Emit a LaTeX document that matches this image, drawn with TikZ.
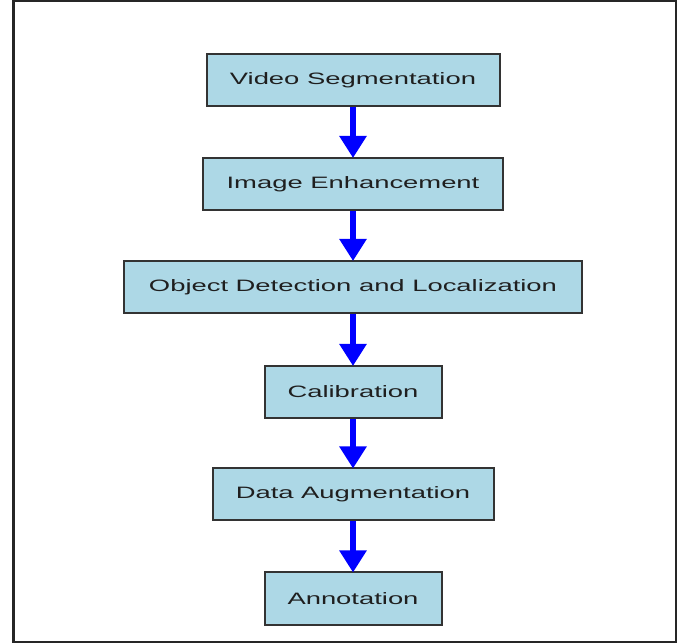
\documentclass[tikz,border=0pt]{standalone}
\usepackage{fontspec}
\setmainfont{Liberation Sans}
\newfontfamily\boxfont[FakeStretch=1.66]{Liberation Sans}
\usetikzlibrary{arrows.meta}
\definecolor{boxblue}{HTML}{ADD8E6}
\definecolor{boxedge}{HTML}{333333}
\definecolor{txtcol}{HTML}{1F1F1F}
\begin{document}
\begin{tikzpicture}[x=1pt,y=-1pt,
  stepbox/.style={draw=boxedge, line width=2pt, fill=boxblue, rectangle,
    inner sep=0pt, minimum height=52pt, text=txtcol,
    font=\boxfont\fontsize{16.5}{18}\selectfont},
  flowarrow/.style={draw=blue, line width=6pt,
    -{Triangle[width=26pt,length=22pt]}, shorten >=-1pt}]
\useasboundingbox (0,0) rectangle (681,644);
\fill[white] (0,0) rectangle (681,644);
\draw[black!85, line width=2.5pt] (13.5,1) rectangle (676,642);
\node[stepbox, minimum width=293pt] (vs) at (353,80) {Video Segmentation};
\node[stepbox, minimum width=300pt] (ie) at (353,184) {Image Enhancement};
\node[stepbox, minimum width=458pt] (od) at (353,287) {Object Detection and Localization};
\node[stepbox, minimum width=177pt] (ca) at (353,392) {Calibration};
\node[stepbox, minimum width=281pt] (da) at (353,494.5) {Data Augmentation};
\node[stepbox, minimum width=177pt] (an) at (353,598.5) {Annotation};
\draw[flowarrow] (vs.south) -- (ie.north);
\draw[flowarrow] (ie.south) -- (od.north);
\draw[flowarrow] (od.south) -- (ca.north);
\draw[flowarrow] (ca.south) -- (da.north);
\draw[flowarrow] (da.south) -- (an.north);
\end{tikzpicture}
\end{document}
